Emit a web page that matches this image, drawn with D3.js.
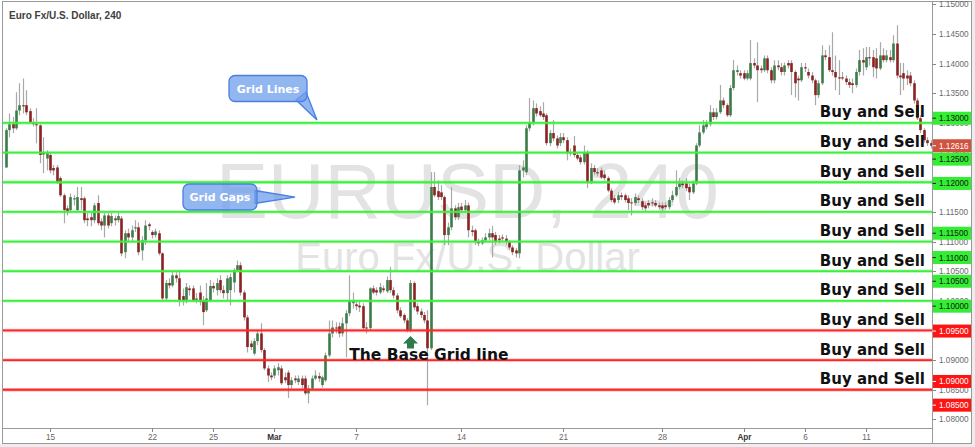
<!DOCTYPE html>
<html><head><meta charset="utf-8">
<script src="https://cdn.jsdelivr.net/npm/d3@7"></script>
<style>html,body{margin:0;padding:0;background:#fff;}svg{display:block;}</style>
</head><body><svg id="c" width="975" height="447"></svg>
<script>
// ---------- DATA (EUR/USD, 4h candles) ----------
const opens = [1.1225,1.1288,1.1298,1.1291,1.1321,1.1330,1.1330,1.1320,1.1301,1.1298,
1.1296,1.1251,1.1240,1.1246,1.1224,1.1225,1.1207,1.1178,1.1156,1.1153,
1.1171,1.1153,1.1173,1.1173,1.1139,1.1141,1.1136,1.1165,1.1134,1.1127,
1.1144,1.1131,1.1139,1.1136,1.1139,1.1082,1.1114,1.1107,1.1122,1.1124,
1.1085,1.1102,1.1129,1.1116,1.1111,1.1114,1.1080,1.1004,1.1030,1.1026,
1.1043,1.1038,1.1008,1.1001,1.1021,1.1021,1.1001,1.1014,1.1001,1.0984,
1.1001,1.1025,1.1018,1.1035,1.1018,1.1013,1.1018,1.1031,1.1052,1.1060,
1.1014,1.0972,1.0928,1.0911,1.0932,1.0945,1.0917,1.0886,1.0874,1.0874,
1.0883,1.0886,1.0871,1.0879,1.0858,1.0869,1.0863,1.0869,1.0869,1.0844,
1.0852,1.0869,1.0873,1.0858,1.0866,1.0908,1.0945,1.0955,1.0957,1.0945,
1.0962,1.0979,1.0996,1.0994,1.0992,1.0991,1.0955,1.0954,1.1021,1.1018,
1.1014,1.1021,1.1016,1.1035,1.1018,1.1009,1.0984,1.0976,1.0967,1.0950,
1.1030,1.0991,1.0982,1.0976,1.0967,1.0920,1.1192,1.1185,1.1183,1.1175,
1.1111,1.1124,1.1156,1.1141,1.1159,1.1153,1.1161,1.1119,1.1119,1.1099,
1.1097,1.1102,1.1107,1.1114,1.1111,1.1105,1.1107,1.1105,1.1099,1.1090,
1.1085,1.1080,1.1220,1.1217,1.1291,1.1301,1.1325,1.1320,1.1316,1.1313,
1.1266,1.1283,1.1274,1.1266,1.1276,1.1271,1.1251,1.1262,1.1246,1.1242,
1.1234,1.1251,1.1200,1.1224,1.1217,1.1220,1.1213,1.1207,1.1186,1.1173,
1.1170,1.1178,1.1178,1.1173,1.1166,1.1165,1.1173,1.1168,1.1161,1.1165,
1.1166,1.1165,1.1161,1.1161,1.1161,1.1158,1.1170,1.1178,1.1192,1.1198,
1.1198,1.1192,1.1183,1.1198,1.1262,1.1284,1.1293,1.1298,1.1318,1.1310,
1.1318,1.1338,1.1330,1.1313,1.1359,1.1386,1.1384,1.1384,1.1375,1.1375,
1.1401,1.1397,1.1392,1.1389,1.1409,1.1389,1.1372,1.1397,1.1394,1.1386,
1.1401,1.1401,1.1386,1.1375,1.1372,1.1394,1.1386,1.1380,1.1372,1.1347,
1.1367,1.1414,1.1411,1.1389,1.1386,1.1377,1.1377,1.1375,1.1369,1.1367,
1.1364,1.1386,1.1406,1.1394,1.1411,1.1411,1.1409,1.1392,1.1414,1.1406,
1.1411,1.1406,1.1434,1.1380,1.1384,1.1380,1.1380,1.1367,1.1338,1.1308,
1.1288,1.1271,1.1266];
const highs = [1.1291,1.1316,1.1310,1.1352,1.1367,1.1375,1.1355,1.1325,1.1308,1.1325,
1.1298,1.1276,1.1254,1.1249,1.1229,1.1229,1.1210,1.1181,1.1161,1.1181,
1.1178,1.1192,1.1192,1.1176,1.1148,1.1148,1.1165,1.1178,1.1139,1.1148,
1.1148,1.1148,1.1144,1.1148,1.1143,1.1119,1.1122,1.1127,1.1136,1.1132,
1.1109,1.1136,1.1132,1.1119,1.1122,1.1119,1.1082,1.1035,1.1038,1.1048,
1.1048,1.1052,1.1021,1.1030,1.1026,1.1026,1.1013,1.1026,1.1008,1.1030,
1.1035,1.1031,1.1038,1.1043,1.1026,1.1043,1.1046,1.1055,1.1068,1.1065,
1.1018,1.0976,1.0933,1.0937,1.0950,1.0962,1.0920,1.0891,1.0879,1.0891,
1.0895,1.0891,1.0879,1.0883,1.0871,1.0874,1.0874,1.0874,1.0874,1.0858,
1.0874,1.0883,1.0879,1.0874,1.0913,1.0967,1.0967,1.0964,1.0964,1.0972,
1.0984,1.1043,1.1014,1.1001,1.1001,1.0996,1.0964,1.1023,1.1026,1.1023,
1.1030,1.1026,1.1041,1.1057,1.1023,1.1013,1.0989,1.0979,1.0971,1.1035,
1.1033,1.0996,1.0987,1.0981,1.0984,1.1217,1.1217,1.1203,1.1195,1.1178,
1.1132,1.1192,1.1161,1.1165,1.1165,1.1170,1.1166,1.1127,1.1122,1.1105,
1.1107,1.1114,1.1122,1.1126,1.1116,1.1111,1.1112,1.1111,1.1102,1.1094,
1.1089,1.1229,1.1237,1.1296,1.1342,1.1338,1.1333,1.1328,1.1335,1.1316,
1.1288,1.1305,1.1279,1.1283,1.1283,1.1276,1.1257,1.1278,1.1251,1.1246,
1.1262,1.1254,1.1232,1.1229,1.1224,1.1225,1.1220,1.1210,1.1190,1.1178,
1.1183,1.1183,1.1181,1.1178,1.1173,1.1181,1.1178,1.1173,1.1166,1.1170,
1.1173,1.1170,1.1166,1.1166,1.1166,1.1175,1.1186,1.1220,1.1207,1.1203,
1.1207,1.1197,1.1203,1.1266,1.1296,1.1305,1.1305,1.1330,1.1325,1.1325,
1.1364,1.1343,1.1333,1.1364,1.1406,1.1397,1.1389,1.1389,1.1389,1.1440,
1.1409,1.1436,1.1397,1.1414,1.1414,1.1394,1.1406,1.1406,1.1401,1.1402,
1.1406,1.1406,1.1389,1.1380,1.1401,1.1401,1.1392,1.1386,1.1375,1.1372,
1.1431,1.1423,1.1431,1.1453,1.1414,1.1406,1.1386,1.1380,1.1375,1.1375,
1.1392,1.1423,1.1426,1.1428,1.1428,1.1423,1.1426,1.1436,1.1426,1.1423,
1.1423,1.1448,1.1465,1.1401,1.1401,1.1389,1.1386,1.1372,1.1342,1.1313,
1.1291,1.1276,1.1271];
const lows = [1.1224,1.1276,1.1283,1.1288,1.1313,1.1316,1.1313,1.1299,1.1294,1.1266,
1.1232,1.1215,1.1220,1.1215,1.1212,1.1197,1.1175,1.1131,1.1144,1.1149,
1.1161,1.1149,1.1153,1.1131,1.1126,1.1126,1.1131,1.1127,1.1119,1.1107,
1.1122,1.1126,1.1127,1.1132,1.1075,1.1072,1.1099,1.1099,1.1116,1.1077,
1.1068,1.1094,1.1119,1.1105,1.1107,1.1077,1.1001,1.1001,1.1021,1.1023,
1.1031,1.0991,1.0992,1.0996,1.1009,1.0998,1.0996,1.0992,1.0959,1.0981,
1.0998,1.1014,1.1009,1.1013,1.1004,1.1001,1.0992,1.1014,1.1048,1.1009,
1.0967,1.0913,1.0917,1.0908,1.0925,1.0913,1.0883,1.0863,1.0866,1.0869,
1.0874,1.0858,1.0861,1.0836,1.0852,1.0861,1.0858,1.0852,1.0841,1.0827,
1.0849,1.0866,1.0863,1.0854,1.0863,1.0905,1.0938,1.0945,1.0938,1.0940,
1.0905,1.0974,1.0987,1.0984,1.0981,1.0950,1.0945,1.0950,1.1011,1.1009,
1.1011,1.1014,1.1013,1.1013,1.1004,1.0979,1.0971,1.0962,1.0947,1.0947,
1.0984,1.0977,1.0971,1.0962,1.0824,1.0917,1.1175,1.1170,1.1170,1.1094,
1.1094,1.1119,1.1136,1.1136,1.1148,1.1149,1.1107,1.1109,1.1094,1.1092,
1.1094,1.1099,1.1102,1.1073,1.1094,1.1097,1.1100,1.1094,1.1085,1.1077,
1.1073,1.1072,1.1208,1.1212,1.1286,1.1296,1.1311,1.1310,1.1305,1.1262,
1.1261,1.1269,1.1257,1.1261,1.1266,1.1237,1.1244,1.1242,1.1237,1.1230,
1.1230,1.1190,1.1197,1.1212,1.1210,1.1205,1.1203,1.1183,1.1166,1.1163,
1.1165,1.1170,1.1166,1.1153,1.1144,1.1161,1.1165,1.1153,1.1151,1.1156,
1.1159,1.1158,1.1154,1.1151,1.1154,1.1154,1.1166,1.1175,1.1188,1.1190,
1.1185,1.1170,1.1180,1.1195,1.1259,1.1281,1.1289,1.1294,1.1305,1.1306,
1.1315,1.1325,1.1310,1.1310,1.1355,1.1380,1.1375,1.1372,1.1372,1.1372,
1.1392,1.1335,1.1384,1.1386,1.1384,1.1367,1.1367,1.1389,1.1380,1.1380,
1.1392,1.1347,1.1343,1.1338,1.1369,1.1386,1.1375,1.1367,1.1330,1.1342,
1.1364,1.1406,1.1386,1.1380,1.1355,1.1347,1.1372,1.1364,1.1359,1.1350,
1.1360,1.1380,1.1380,1.1389,1.1397,1.1377,1.1375,1.1389,1.1402,1.1402,
1.1402,1.1402,1.1375,1.1347,1.1355,1.1364,1.1362,1.1333,1.1305,1.1283,
1.1267,1.1261,1.1257];
const closes = [1.1288,1.1298,1.1291,1.1321,1.1330,1.1328,1.1318,1.1301,1.1298,1.1296,
1.1246,1.1247,1.1249,1.1220,1.1220,1.1200,1.1178,1.1153,1.1151,1.1175,
1.1173,1.1175,1.1170,1.1136,1.1136,1.1136,1.1161,1.1131,1.1127,1.1144,
1.1127,1.1143,1.1136,1.1143,1.1080,1.1114,1.1107,1.1119,1.1124,1.1082,
1.1102,1.1127,1.1126,1.1111,1.1117,1.1080,1.1004,1.1030,1.1026,1.1043,
1.1038,1.1001,1.1001,1.1023,1.1018,1.1001,1.1004,1.0998,1.0981,1.1004,
1.1025,1.1021,1.1030,1.1018,1.1013,1.1038,1.1040,1.1052,1.1060,1.1014,
1.0972,1.0922,1.0922,1.0932,1.0945,1.0917,1.0886,1.0874,1.0871,1.0886,
1.0888,1.0861,1.0866,1.0858,1.0866,1.0866,1.0869,1.0858,1.0844,1.0852,
1.0869,1.0874,1.0869,1.0871,1.0908,1.0945,1.0955,1.0954,1.0945,1.0962,
1.0979,1.1001,1.1001,1.0991,1.0989,1.0954,1.0954,1.1021,1.1014,1.1014,
1.1023,1.1018,1.1035,1.1018,1.1009,1.0984,1.0974,1.0967,1.0950,1.1030,
1.0989,1.0982,1.0976,1.0967,1.0920,1.1192,1.1178,1.1175,1.1175,1.1111,
1.1124,1.1156,1.1141,1.1158,1.1153,1.1161,1.1119,1.1116,1.1099,1.1097,
1.1102,1.1107,1.1114,1.1107,1.1099,1.1102,1.1105,1.1099,1.1090,1.1082,
1.1080,1.1220,1.1225,1.1291,1.1301,1.1325,1.1316,1.1313,1.1310,1.1266,
1.1283,1.1274,1.1262,1.1276,1.1271,1.1249,1.1249,1.1246,1.1240,1.1234,
1.1251,1.1200,1.1224,1.1217,1.1215,1.1208,1.1207,1.1186,1.1170,1.1166,
1.1178,1.1175,1.1170,1.1165,1.1165,1.1175,1.1170,1.1158,1.1156,1.1161,
1.1165,1.1161,1.1158,1.1156,1.1158,1.1170,1.1178,1.1192,1.1198,1.1195,
1.1190,1.1183,1.1198,1.1262,1.1284,1.1296,1.1299,1.1318,1.1310,1.1318,
1.1338,1.1330,1.1313,1.1359,1.1389,1.1389,1.1380,1.1375,1.1384,1.1401,
1.1397,1.1389,1.1389,1.1409,1.1389,1.1372,1.1397,1.1394,1.1386,1.1397,
1.1397,1.1386,1.1367,1.1372,1.1394,1.1392,1.1380,1.1372,1.1347,1.1367,
1.1414,1.1411,1.1389,1.1386,1.1377,1.1375,1.1375,1.1369,1.1364,1.1364,
1.1386,1.1406,1.1402,1.1411,1.1409,1.1394,1.1392,1.1414,1.1406,1.1414,
1.1406,1.1434,1.1380,1.1377,1.1375,1.1375,1.1367,1.1338,1.1308,1.1288,
1.1271,1.1266,1.12616];

const dateTickIndex  = [13, 43, 61, 79, 103, 134, 164, 193, 217, 235, 253];
const dateTickLabels = ["15","22","25","Mar","7","14","21","28","Apr","6","11"];
const monthLabels = ["Mar","Apr"];

const priceTicks = [1.15,1.145,1.14,1.135,1.13,1.125,1.12,1.115,1.11,1.105,1.10,1.095,1.09,1.085,1.08];

const gridLevels = [1.13,1.125,1.12,1.115,1.11,1.105,1.10,1.095,1.09,1.085];
const gridLabel = "Buy and Sell";
const lastPrice = 1.12616;

// where each level's price badge sits on the axis (price units, as in the picture)
const badgeAnchor = [1.1308,1.1239,1.1198,1.1114,1.1073,1.1033,1.0991,1.0949,1.0864,1.0824];

// ---------- LAYOUT ----------
const W = 975, H = 447;
const PL = 2.5, PR = 932.5, PT = 0, PB = 428.5, FR = 971.5, FB = 443.5;
const GREEN_UP = "#3b7d49", RED_DN = "#8c2222", WICK = "#a9a9a9";
const LINE_GREEN = "#3ef03e", LINE_RED = "#ff2626";
const AXIS_FONT = "Liberation Sans, Arial, sans-serif";
const N = closes.length;

const svg = d3.select("#c");
const x = d3.scaleLinear().domain([0, N - 1]).range([5.8, 930.6]);
const y = d3.scaleLinear().domain([1.08, 1.15]).range([419.4, 4.4]);

// outer background
svg.append("rect").attr("width", W).attr("height", H).attr("fill", "#ededed");
svg.append("rect").attr("x", 0).attr("y", 0).attr("width", FR).attr("height", FB).attr("fill", "#fff");

const defs = svg.append("defs");
defs.append("clipPath").attr("id", "plotclip").append("rect")
  .attr("x", PL).attr("y", PT).attr("width", PR - PL).attr("height", PB - PT);

const plot = svg.append("g").attr("clip-path", "url(#plotclip)");

// watermark
plot.append("text").attr("x", (PL + PR) / 2).attr("y", 218).attr("text-anchor", "middle")
  .attr("font-family", AXIS_FONT).attr("font-size", 78)
  .attr("fill", "#e3e3e3").text("EURUSD, 240");
plot.append("text").attr("x", (PL + PR) / 2).attr("y", 271).attr("text-anchor", "middle")
  .attr("font-family", AXIS_FONT).attr("font-size", 40)
  .attr("fill", "#e3e3e3").text("Euro Fx/U.S. Dollar");

// candles
const idx = d3.range(N);
const cg = plot.append("g");
cg.selectAll("line.w").data(idx).join("line").attr("class", "w")
  .attr("x1", i => Math.round(x(i)) + 0.5).attr("x2", i => Math.round(x(i)) + 0.5)
  .attr("y1", i => y(highs[i])).attr("y2", i => y(lows[i]))
  .attr("stroke", WICK).attr("stroke-width", 1.2);
cg.selectAll("rect.b").data(idx).join("rect").attr("class", "b")
  .attr("x", i => Math.round(x(i)) - 0.8).attr("width", 2.6)
  .attr("y", i => y(Math.max(opens[i], closes[i])))
  .attr("height", i => Math.max(1, Math.abs(y(opens[i]) - y(closes[i]))))
  .attr("fill", i => closes[i] >= opens[i] ? GREEN_UP : RED_DN);

// grid lines
const isUpper = v => v >= 1.0975;
const lg = plot.append("g");
gridLevels.forEach(v => {
  const c = isUpper(v) ? LINE_GREEN : LINE_RED;
  lg.append("line").attr("x1", PL).attr("x2", PR).attr("y1", y(v)).attr("y2", y(v))
    .attr("stroke", c).attr("stroke-width", 3.4).attr("opacity", 0.35);
  lg.append("line").attr("x1", PL).attr("x2", PR).attr("y1", y(v)).attr("y2", y(v))
    .attr("stroke", c).attr("stroke-width", 1.8);
});

// Buy and Sell labels
plot.append("g").selectAll("text").data(gridLevels).join("text")
  .attr("x", 925).attr("y", v => y(v) - 5.5).attr("text-anchor", "end")
  .attr("font-family", "DejaVu Sans, Verdana, sans-serif").attr("font-weight", "bold")
  .attr("font-size", 15).attr("fill", "#111").text(gridLabel);

// callouts
function bubble(g, bx, by, bw, bh, tail, label) {
  const r = 6;
  g.append("path").attr("d", tail)
    .attr("fill", "#6d9eeb").attr("fill-opacity", 0.75).attr("stroke", "#4a7fe0").attr("stroke-width", 1.3);
  g.append("rect").attr("x", bx).attr("y", by).attr("width", bw).attr("height", bh).attr("rx", r)
    .attr("fill", "#6d9eeb").attr("fill-opacity", 0.75).attr("stroke", "#4a7fe0").attr("stroke-width", 1.3);
  g.append("text").attr("x", bx + bw / 2).attr("y", by + bh / 2 + 4).attr("text-anchor", "middle")
    .attr("font-family", "DejaVu Sans, Verdana, sans-serif").attr("font-weight", "bold")
    .attr("font-size", 11).attr("fill", "#fff").text(label);
}
const ann = svg.append("g");
const yLine = y(gridLevels[0]);
bubble(ann, 229, 75.5, 78, 26, `M296,100 L317,${yLine - 3} L306,92 Z`, "Grid Lines");
const yGap = (y(gridLevels[2]) + y(gridLevels[3])) / 2;
bubble(ann, 183, 184, 74, 26, `M255,190.5 L295,${yGap} L255,203.5 Z`, "Grid Gaps");

// base grid line annotation
const arrowI = 119;
const ax = Math.round(x(arrowI)) + 0.5, ay = y(gridLevels[7]) + 5.5;
ann.append("path")
  .attr("d", `M${ax},${ay} L${ax + 7.5},${ay + 7.5} L${ax + 3.5},${ay + 7.5} L${ax + 3.5},${ay + 12.5} L${ax - 3.5},${ay + 12.5} L${ax - 3.5},${ay + 7.5} L${ax - 7.5},${ay + 7.5} Z`)
  .attr("fill", "#2f7a4a");
ann.append("text").attr("x", x(101)).attr("y", y(gridLevels[8]))
  .attr("font-family", "DejaVu Sans, Verdana, sans-serif").attr("font-weight", "bold")
  .attr("font-size", 15.5).attr("fill", "#111").text("The Base Grid line");

// title
svg.append("text").attr("x", 9).attr("y", 19)
  .attr("font-family", AXIS_FONT).attr("font-weight", "bold")
  .attr("font-size", 10).attr("fill", "#404040").text("Euro Fx/U.S. Dollar, 240");

// frame lines
const fg = svg.append("g").attr("stroke", "#9a9a9a").attr("stroke-width", 1).attr("fill", "none");
fg.append("rect").attr("x", PL).attr("y", 1.5).attr("width", FR - PL).attr("height", FB - 1.5);
fg.append("line").attr("x1", PR).attr("x2", PR).attr("y1", 1.5).attr("y2", FB);
fg.append("line").attr("x1", PL).attr("x2", PR).attr("y1", PB).attr("y2", PB);

// right price axis (grey scale labels; several sit under the level badges, as in the source)
const ra = svg.append("g");
ra.selectAll("line").data(priceTicks).join("line")
  .attr("x1", PR).attr("x2", PR + 3.5).attr("y1", v => Math.round(y(v)) + 0.5).attr("y2", v => Math.round(y(v)) + 0.5)
  .attr("stroke", "#888");
ra.selectAll("text").data(priceTicks).join("text")
  .attr("x", 939).attr("y", v => y(v) + 3)
  .attr("font-family", AXIS_FONT).attr("font-size", 8.2)
  .attr("fill", "#6a6a6a").text(v => v.toFixed(5));

// badges
const bg = svg.append("g");
gridLevels.forEach((v, k) => {
  const by = y(badgeAnchor[k]);
  const up = isUpper(v);
  bg.append("rect").attr("x", PR + 0.5).attr("y", by - 6.5).attr("width", FR - PR - 1).attr("height", 13)
    .attr("fill", up ? "#33ee33" : "#ff1414");
  bg.append("line").attr("x1", PR).attr("x2", PR + 3.5).attr("y1", by).attr("y2", by).attr("stroke", up ? "#222" : "#fff");
  bg.append("text").attr("x", 939).attr("y", by + 3)
    .attr("font-family", AXIS_FONT).attr("font-size", 8.2)
    .attr("fill", up ? "#111" : "#fff").text(v.toFixed(5));
});
const ly = y(lastPrice);
bg.append("rect").attr("x", PR + 0.5).attr("y", ly - 6.5).attr("width", FR - PR - 1).attr("height", 13).attr("fill", "#d0533f");
bg.append("line").attr("x1", PR).attr("x2", PR + 3.5).attr("y1", ly).attr("y2", ly).attr("stroke", "#fff");
bg.append("text").attr("x", 939).attr("y", ly + 3)
  .attr("font-family", AXIS_FONT).attr("font-size", 8.2)
  .attr("fill", "#fff").text(lastPrice.toFixed(5));

// bottom date axis
const ba = svg.append("g");
ba.selectAll("line").data(dateTickIndex).join("line")
  .attr("x1", i => Math.round(x(i)) + 0.5).attr("x2", i => Math.round(x(i)) + 0.5)
  .attr("y1", PB).attr("y2", PB + 3.5).attr("stroke", "#888");
ba.selectAll("text").data(dateTickIndex).join("text")
  .attr("x", i => Math.round(x(i)) + 0.5).attr("y", 440).attr("text-anchor", "middle")
  .attr("font-family", AXIS_FONT).attr("font-size", 8.2)
  .attr("font-weight", (i, k) => monthLabels.includes(dateTickLabels[k]) ? "bold" : "normal")
  .attr("fill", (i, k) => monthLabels.includes(dateTickLabels[k]) ? "#333" : "#666")
  .text((i, k) => dateTickLabels[k]);
</script>
</body></html>
